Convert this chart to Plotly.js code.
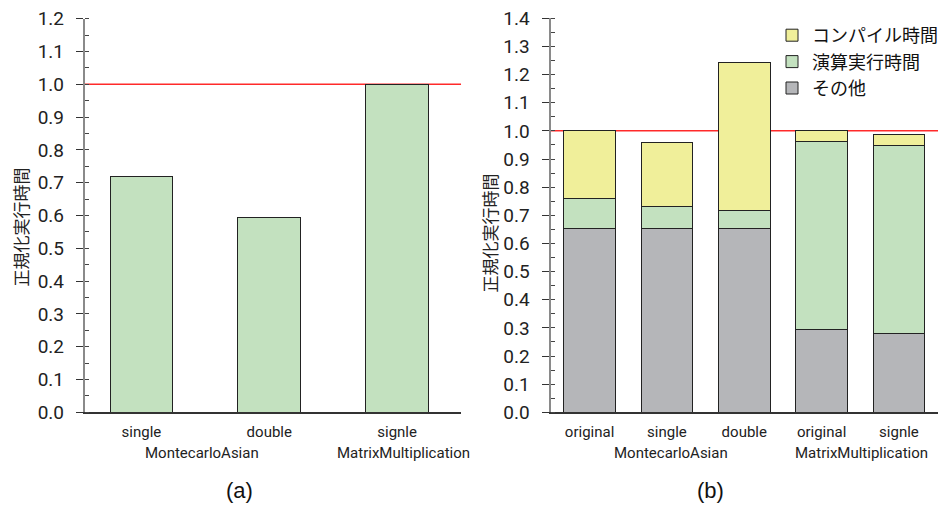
<!DOCTYPE html>
<html>
<head>
<meta charset="utf-8">
<script src="https://cdn.plot.ly/plotly-3.0.1.min.js"></script>
<style>html,body{margin:0;padding:0;background:#fff;}#chart{width:943px;height:511px;}</style>
</head>
<body>
<div id="chart"></div>
<script>
// ---- data (a) ----
var catsA = ['single', 'double', 'signle'];
var valsA = [0.72, 0.595, 1.0];
// ---- data (b) ----
var catsB = ['original', 'single', 'double', 'original', 'signle'];
var otherB = [0.654, 0.654, 0.654, 0.295, 0.281];
var computeB = [0.106, 0.078, 0.062, 0.668, 0.668];
var compileB = [0.240, 0.226, 0.528, 0.037, 0.039];
var seriesNames = ['その他', '演算実行時間', 'コンパイル時間'];
var groupLabels = ['MontecarloAsian', 'MatrixMultiplication'];
var yTitle = '正規化実行時間';
var baseline = 1.0;

var numFont = 'Roboto, "Noto Sans", sans-serif';
var cjkFont = '"Noto Sans CJK JP", sans-serif';
var colGreen = '#c3e1bf', colYellow = '#f0ef9a', colGray = '#b5b6b9';
var outline = {color: '#222', width: 1};

var idxA = catsA.map(function (_, i) { return i; });
var idxB = catsB.map(function (_, i) { return i; });

var traces = [
  {type: 'bar', x: idxA, y: valsA, xaxis: 'x', yaxis: 'y', width: 0.49,
   marker: {color: colGreen, line: outline}, showlegend: false, hoverinfo: 'y'},
  {type: 'bar', x: idxB, y: otherB, xaxis: 'x2', yaxis: 'y2', width: 0.67, name: seriesNames[0],
   marker: {color: colGray, line: outline}},
  {type: 'bar', x: idxB, y: computeB, xaxis: 'x2', yaxis: 'y2', width: 0.67, name: seriesNames[1],
   marker: {color: colGreen, line: outline}},
  {type: 'bar', x: idxB, y: compileB, xaxis: 'x2', yaxis: 'y2', width: 0.67, name: seriesNames[2],
   marker: {color: colYellow, line: outline}}
];

// grid positions every 0.1, leaving the baseline free for the red reference line
function gridVals(maxV) {
  var v = [];
  for (var i = 0; i <= Math.round(maxV * 10); i++) {
    if (Math.abs(i / 10 - baseline) > 1e-9) v.push(i / 10);
  }
  return v;
}

function yax(maxV, dom) {
  return {
    domain: dom, range: [0, maxV], dtick: 0.1, tick0: 0, tickformat: '.1f',
    showline: true, linecolor: '#8a8a8a', linewidth: 2,
    ticks: 'outside', ticklen: 7, tickcolor: '#333', tickwidth: 1,
    ticklabelstandoff: 8,
    minor: {dtick: 0.05, ticks: 'inside', ticklen: 4, tickcolor: '#444', showgrid: false},
    showgrid: false, zeroline: false,
    tickfont: {family: numFont, size: 19, color: '#222'}, fixedrange: true
  };
}
// overlay axis: draws the grid (without the baseline) and the inner half of the major ticks
function ygrid(maxV, dom, over, anchor) {
  return {
    domain: dom, range: [0, maxV], overlaying: over, anchor: anchor, side: 'left',
    tickmode: 'array', tickvals: gridVals(maxV), showticklabels: false,
    ticks: 'inside', ticklen: 6, tickcolor: '#333', tickwidth: 1,
    showline: false, showgrid: true, gridcolor: '#c8c8c8', gridwidth: 1, zeroline: false, fixedrange: true
  };
}
function xax(rng, dom, yref, vals, text) {
  return {
    domain: dom, range: rng, anchor: yref, tickmode: 'array', tickvals: vals, ticktext: text,
    showline: true, linecolor: '#333', linewidth: 1.5, ticks: '', showgrid: false, zeroline: false,
    ticklabelstandoff: 5, tickfont: {family: numFont, size: 15, color: '#222'}, fixedrange: true
  };
}

var W = 943, H = 511;
var domYA = [1 - 412.3 / H, 1 - 18.7 / H];
var domYB = [1 - 412.3 / H, 1 - 18.3 / H];
var lblFont = {family: numFont, size: 15, color: '#222'};
var capFont = {family: '"Liberation Sans", Arial, sans-serif', size: 22, color: '#111'};
var ttlFont = {family: cjkFont, size: 17, color: '#222'};
var gy = 1 - 453 / H;

var layout = {
  width: W, height: H, margin: {l: 0, r: 0, t: 0, b: 0},
  paper_bgcolor: '#fff', plot_bgcolor: 'rgba(0,0,0,0)',
  barmode: 'stack', bargap: 0,
  xaxis: xax([-0.443, 2.5], [85 / W, 462 / W], 'y', idxA, catsA),
  yaxis: yax(1.2, domYA),
  yaxis3: ygrid(1.2, domYA, 'y', 'x'),
  xaxis2: xax([-0.505, 4.505], [551.7 / W, 940 / W], 'y2', idxB, catsB),
  yaxis2: Object.assign(yax(1.4, domYB), {anchor: 'x2'}),
  yaxis4: ygrid(1.4, domYB, 'y2', 'x2'),
  showlegend: true,
  legend: {x: 774 / W, y: 1 - 17 / H, xanchor: 'left', yanchor: 'top', traceorder: 'reversed',
           bgcolor: 'rgba(0,0,0,0)', font: {family: cjkFont, size: 18, color: '#111'}},
  shapes: [
    {type: 'line', xref: 'x domain', yref: 'y', x0: 0, x1: 1, y0: baseline, y1: baseline,
     line: {color: '#ff2a2a', width: 1.5}, layer: 'below'},
    {type: 'line', xref: 'x2 domain', yref: 'y2', x0: 0, x1: 1, y0: baseline, y1: baseline,
     line: {color: '#ff2a2a', width: 1.5}, layer: 'below'}
  ],
  annotations: [
    {xref: 'x', yref: 'paper', x: 0.475, y: gy, xanchor: 'center', yanchor: 'middle',
     text: groupLabels[0], showarrow: false, font: lblFont},
    {xref: 'x', yref: 'paper', x: 2.05, y: gy, xanchor: 'center', yanchor: 'middle',
     text: groupLabels[1], showarrow: false, font: lblFont},
    {xref: 'x2', yref: 'paper', x: 1.057, y: gy, xanchor: 'center', yanchor: 'middle',
     text: groupLabels[0], showarrow: false, font: lblFont},
    {xref: 'x2', yref: 'paper', x: 3.52, y: gy, xanchor: 'center', yanchor: 'middle',
     text: groupLabels[1], showarrow: false, font: lblFont},
    {xref: 'paper', yref: 'paper', x: 240 / W, y: 1 - 490 / H, xanchor: 'center', yanchor: 'middle',
     text: '(a)', showarrow: false, font: capFont},
    {xref: 'paper', yref: 'paper', x: 711.7 / W, y: 1 - 490 / H, xanchor: 'center', yanchor: 'middle',
     text: '(b)', showarrow: false, font: capFont},
    {xref: 'paper', yref: 'paper', x: 20.5 / W, y: 1 - 227 / H, xanchor: 'center', yanchor: 'middle',
     text: yTitle, textangle: -90, showarrow: false, font: ttlFont},
    {xref: 'paper', yref: 'paper', x: 491.5 / W, y: 1 - 233 / H, xanchor: 'center', yanchor: 'middle',
     text: yTitle, textangle: -90, showarrow: false, font: ttlFont}
  ]
};

Plotly.newPlot('chart', traces, layout, {displayModeBar: false, staticPlot: true});
</script>
</body>
</html>
